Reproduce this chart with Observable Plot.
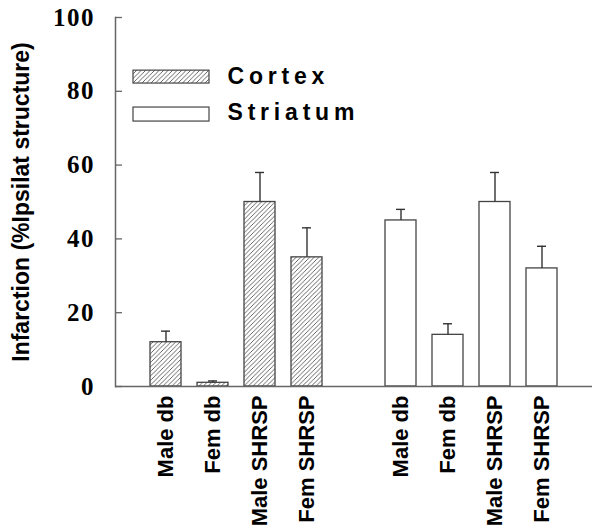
<!DOCTYPE html>
<html>
<head>
<meta charset="utf-8">
<script src="https://cdn.jsdelivr.net/npm/d3@7"></script>
<script src="https://cdn.jsdelivr.net/npm/@observablehq/plot@0.6"></script>
<style>
  html, body { margin: 0; padding: 0; background: #fff; }
  #chart [aria-label="y-axis tick label"] text { letter-spacing: 1.5px; }
  #chart .legend-text text { letter-spacing: 4.8px; }
</style>
</head>
<body>
<div id="chart"></div>
<script>
// ---- data ----
const groups = ["Cortex", "Striatum"];
const strains = ["Male db", "Fem db", "Male SHRSP", "Fem SHRSP"];
const cortexMean = [12, 1, 50, 35];
const cortexErr = [3, 0.5, 8, 8];
const striatumMean = [45, 14, 50, 32];
const striatumErr = [3, 3, 8, 6];
const yTicks = [0, 20, 40, 60, 80, 100];
const yLabel = "Infarction (%Ipsilat structure)";

// ---- build table ----
const rows = [];
strains.forEach((s, i) => rows.push({group: "Cortex", strain: s, key: "Cortex|" + s, value: cortexMean[i], err: cortexErr[i]}));
strains.forEach((s, i) => rows.push({group: "Striatum", strain: s, key: "Striatum|" + s, value: striatumMean[i], err: striatumErr[i]}));
const realKeys = rows.map(d => d.key);
const xDomain = [...realKeys.slice(0, 4), "gap", ...realKeys.slice(4)];

const sans = "Liberation Sans, Arial, sans-serif";
const serif = "Liberation Serif, Times New Roman, serif";
const axisColor = "#666";
const barStroke = "#444";

const chart = Plot.plot({
  width: 600,
  height: 531,
  marginLeft: 115,
  marginRight: 8,
  marginTop: 17,
  marginBottom: 145,
  style: {background: "#fff", color: "#000"},
  x: {type: "band", domain: xDomain, paddingInner: 1/3, paddingOuter: 0.65, axis: null},
  y: {domain: [0, 100], axis: null},
  marks: [
    // bars
    Plot.rectY(rows.filter(d => d.group === "Cortex"), {x: "key", y: "value", fill: "url(#hatch)", stroke: barStroke, strokeWidth: 1.3}),
    Plot.rectY(rows.filter(d => d.group === "Striatum"), {x: "key", y: "value", fill: "white", stroke: barStroke, strokeWidth: 1.3}),
    // error bars (upper only)
    Plot.ruleX(rows, {x: "key", y1: "value", y2: d => d.value + d.err, stroke: "#333", strokeWidth: 1.4}),
    Plot.tickY(rows, {x: "key", y: d => d.value + d.err, stroke: "#333", strokeWidth: 1.4, inset: 11}),
    // axes lines
    Plot.frame({anchor: "left", stroke: axisColor, strokeWidth: 1.5}),
    Plot.ruleY([0], {stroke: axisColor, strokeWidth: 1.5}),
    // inward y ticks
    Plot.ruleY(yTicks, {stroke: axisColor, strokeWidth: 1.3, insetRight: 477 - 7}),
    // y tick labels
    Plot.axisY({ticks: yTicks, tickSize: 0, tickPadding: 20.5, fontFamily: serif, fontWeight: "bold", fontSize: 25, label: null, tickFormat: d => String(d)}),
    // y label
    Plot.text([yLabel], {frameAnchor: "left", textAnchor: "middle", rotate: -90, dx: -94, fontFamily: sans, fontWeight: "bold", fontSize: 23, fill: "#000"}),
    // x tick labels
    Plot.axisX({ticks: realKeys, tickSize: 0, tickPadding: 9, tickRotate: -90, fontFamily: sans, fontWeight: "bold", fontSize: 22, label: null, tickFormat: d => d.split("|")[1]}),
    // legend
    Plot.rect([groups[0]], {y1: 82.1, y2: 85.6, insetLeft: 18, insetRight: 383, fill: "url(#hatch)", stroke: barStroke, strokeWidth: 1.2}),
    Plot.rect([groups[1]], {y1: 71.8, y2: 75.6, insetLeft: 18, insetRight: 383, fill: "white", stroke: barStroke, strokeWidth: 1.2}),
    Plot.text([groups[0]], {frameAnchor: "left", y: 84.0, dx: 112, text: d => d, textAnchor: "start", fontFamily: sans, fontWeight: "bold", fontSize: 23, fill: "#000", className: "legend-text"}),
    Plot.text([groups[1]], {frameAnchor: "left", y: 74.1, dx: 112, text: d => d, textAnchor: "start", fontFamily: sans, fontWeight: "bold", fontSize: 23, fill: "#000", className: "legend-text"})
  ]
});

// hatch pattern definition
const svgNS = "http://www.w3.org/2000/svg";
const svg = chart.tagName.toLowerCase() === "svg" ? chart : chart.querySelector("svg");
const defs = document.createElementNS(svgNS, "defs");
defs.innerHTML = `<pattern id="hatch" patternUnits="userSpaceOnUse" width="4.5" height="4.5">
  <rect width="4.5" height="4.5" fill="white"/>
  <path d="M0,4.5 L4.5,0 M-1,1 L1,-1 M3.5,5.5 L5.5,3.5" stroke="#555" stroke-width="0.9"/>
</pattern>`;
svg.insertBefore(defs, svg.firstChild);
document.getElementById("chart").appendChild(chart);
</script>
</body>
</html>
